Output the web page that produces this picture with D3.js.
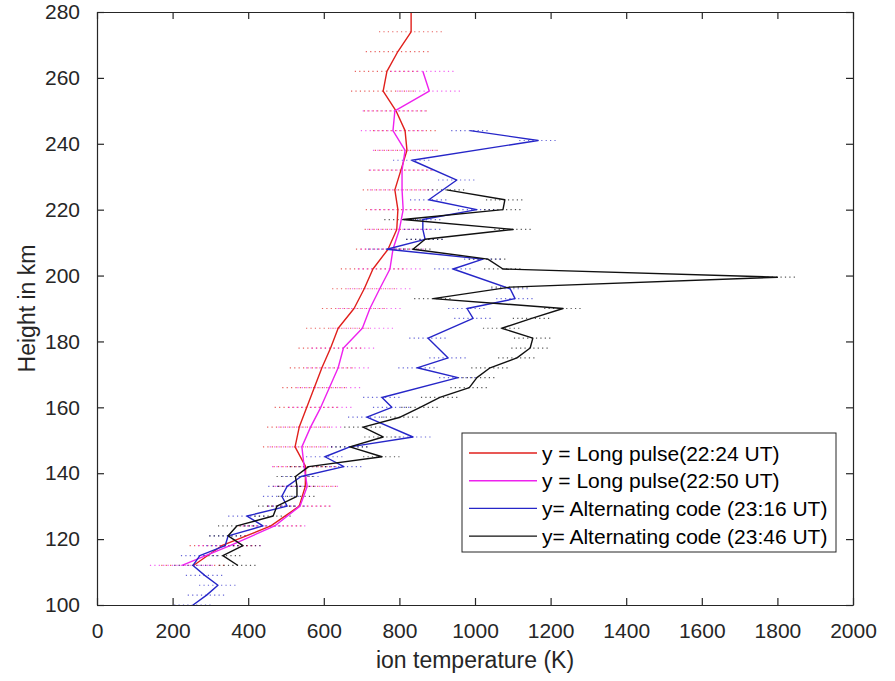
<!DOCTYPE html>
<html>
<head>
<meta charset="utf-8">
<script src="https://cdn.jsdelivr.net/npm/d3@7"></script>
<style>
  body { margin: 0; background: #fff; }
  svg { display: block; font-family: "Liberation Sans", Arial, sans-serif; }
</style>
</head>
<body>
<div id="chart"></div>
<script>
// ion temperature profiles, height (km) vs temperature (K)

// long pulse 22:24 UT
const lp1Height = [280, 274, 268, 262, 256, 250, 244, 238, 232, 226, 220, 214, 208, 202, 196, 190, 184, 178, 172, 166, 160, 154, 148, 142, 136, 130, 124, 118, 112];
const lp1Temp = [831, 831, 796, 767, 757, 791, 815, 820, 804, 788, 796, 793, 770, 730, 707, 680, 638, 618, 595, 575, 555, 535, 524, 552, 551, 535, 460, 330, 255];

// long pulse 22:50 UT
const lp2Height = [262, 256, 250, 244, 238, 232, 226, 220, 214, 208, 202, 196, 190, 184, 178, 172, 166, 160, 154, 148, 142, 136, 130, 124, 118, 112];
const lp2Temp = [862, 879, 788, 783, 815, 807, 807, 810, 800, 783, 775, 748, 722, 702, 652, 638, 615, 592, 565, 542, 548, 556, 537, 470, 352, 225];

// alternating code 23:16 UT
const ac1Height = [244, 241, 235, 229, 223, 220, 217, 214, 211, 208, 205, 202, 196, 193, 190, 187, 181, 175, 172, 169, 163, 160, 157, 151, 148, 145, 142, 139, 136, 133, 130, 127, 124, 121, 118, 115, 112, 109, 106, 103, 100];
const ac1Temp = [987, 1167, 833, 952, 878, 1005, 862, 862, 868, 767, 1021, 942, 1093, 1106, 979, 995, 876, 929, 847, 955, 754, 780, 714, 836, 669, 603, 653, 540, 503, 489, 503, 397, 439, 347, 339, 272, 254, 285, 320, 290, 254];

// alternating code 23:46 UT
const ac2Height = [226, 223, 220, 217, 214, 211, 208, 205, 202, 199.5, 196.5, 193, 190, 187, 184, 181, 178, 175, 172, 169, 166, 163, 160, 157, 154, 151, 148, 145, 142, 139, 136, 133, 130, 127, 124, 121, 118, 115, 112];
const ac2Temp = [925, 1079, 1074, 810, 1101, 868, 836, 1034, 1074, 1800, 1093, 889, 1233, 1150, 1071, 1153, 1146, 1111, 1040, 1005, 985, 907, 855, 802, 704, 757, 669, 754, 560, 525, 529, 529, 476, 466, 370, 347, 386, 333, 373];

// error half widths (K)
const errHalf = [85, 85, 50, 50];

const legendLabels = ["y = Long pulse(22:24 UT)", "y = Long pulse(22:50 UT)", "y= Alternating code (23:16 UT)", "y= Alternating code (23:46 UT)"];
const colors = ["#e0201c", "#ee22ee", "#2626c8", "#111111"];

const xTicks = [0, 200, 400, 600, 800, 1000, 1200, 1400, 1600, 1800, 2000];
const yTicks = [100, 120, 140, 160, 180, 200, 220, 240, 260, 280];

const W = 895, H = 681;
const margin = { top: 12, right: 42, bottom: 76, left: 97 };
const width = W - margin.left - margin.right;
const height = H - margin.top - margin.bottom;
const axisColor = "#262626";

const svg = d3.select("#chart").append("svg")
  .attr("width", W)
  .attr("height", H);

const g = svg.append("g")
  .attr("transform", `translate(${margin.left}, ${margin.top})`);

const x = d3.scaleLinear().domain([0, 2000]).range([0, width]);
const y = d3.scaleLinear().domain([100, 280]).range([height, 0]);

const series = [
  { h: lp1Height, t: lp1Temp },
  { h: lp2Height, t: lp2Temp },
  { h: ac1Height, t: ac1Temp },
  { h: ac2Height, t: ac2Temp },
].map((s, i) => ({
  color: colors[i],
  err: errHalf[i],
  pts: s.h.map((hv, j) => ({ h: hv, t: s.t[j] }))
}));

g.append("clipPath").attr("id", "plotclip")
  .append("rect").attr("width", width).attr("height", height);

const plot = g.append("g").attr("clip-path", "url(#plotclip)");

// error bars as dotted horizontal lines
series.forEach(s => {
  plot.append("g").selectAll("line")
    .data(s.pts)
    .enter()
    .append("line")
    .attr("x1", d => x(d.t - s.err))
    .attr("x2", d => x(d.t + s.err))
    .attr("y1", d => y(d.h))
    .attr("y2", d => y(d.h))
    .attr("stroke", s.color)
    .attr("stroke-width", 1.2)
    .attr("stroke-dasharray", "1.2,3.2")
    .attr("opacity", 0.7);
});

const line = d3.line().x(d => x(d.t)).y(d => y(d.h));

series.forEach(s => {
  plot.append("path")
    .datum(s.pts)
    .attr("d", line)
    .attr("fill", "none")
    .attr("stroke", s.color)
    .attr("stroke-width", 1.4)
    .attr("stroke-linejoin", "round");
});

// axes, MATLAB style with inner ticks on all sides
const tickLen = 7;
const fmt = d3.format("d");
const xAxis = g.append("g")
  .attr("transform", `translate(0, ${height})`)
  .call(d3.axisBottom(x).tickValues(xTicks).tickFormat(fmt).tickSize(-tickLen).tickPadding(tickLen + 11).tickSizeOuter(0));
const xTop = g.append("g")
  .call(d3.axisTop(x).tickValues(xTicks).tickSize(-tickLen).tickFormat("").tickSizeOuter(0));
const yAxis = g.append("g")
  .call(d3.axisLeft(y).tickValues(yTicks).tickFormat(fmt).tickSize(-tickLen).tickPadding(tickLen + 10).tickSizeOuter(0));
const yRight = g.append("g")
  .attr("transform", `translate(${width}, 0)`)
  .call(d3.axisRight(y).tickValues(yTicks).tickSize(-tickLen).tickFormat("").tickSizeOuter(0));

[xAxis, xTop, yAxis, yRight].forEach(a => {
  a.select(".domain").attr("stroke", axisColor).attr("stroke-width", 1.2);
  a.selectAll(".tick line").attr("stroke", axisColor).attr("stroke-width", 1.2);
  a.selectAll(".tick text")
    .attr("fill", axisColor)
    .style("font-size", "21px")
    .style("font-family", "Liberation Sans, Arial, sans-serif");
});

// axis titles
g.append("text")
  .attr("x", width / 2)
  .attr("y", height + 63)
  .attr("text-anchor", "middle")
  .attr("fill", axisColor)
  .style("font-size", "23px")
  .text("ion temperature (K)");

g.append("text")
  .attr("transform", `translate(${-62}, ${height / 2}) rotate(-90)`)
  .attr("text-anchor", "middle")
  .attr("fill", axisColor)
  .style("font-size", "23px")
  .text("Height in km");

// legend
const leg = g.append("g")
  .attr("transform", `translate(${462 - margin.left}, ${433 - margin.top})`);

leg.append("rect")
  .attr("width", 374)
  .attr("height", 119)
  .attr("fill", "#fff")
  .attr("stroke", axisColor)
  .attr("stroke-width", 1);

legendLabels.forEach((lab, i) => {
  const ry = 20 + i * 27.7;
  leg.append("line")
    .attr("x1", 7).attr("x2", 75)
    .attr("y1", ry).attr("y2", ry)
    .attr("stroke", colors[i])
    .attr("stroke-width", 1.4);
  leg.append("text")
    .attr("x", 80)
    .attr("y", ry)
    .attr("dy", "0.36em")
    .attr("fill", "#000")
    .style("font-size", "21px")
    .text(lab);
});
</script>
</body>
</html>
